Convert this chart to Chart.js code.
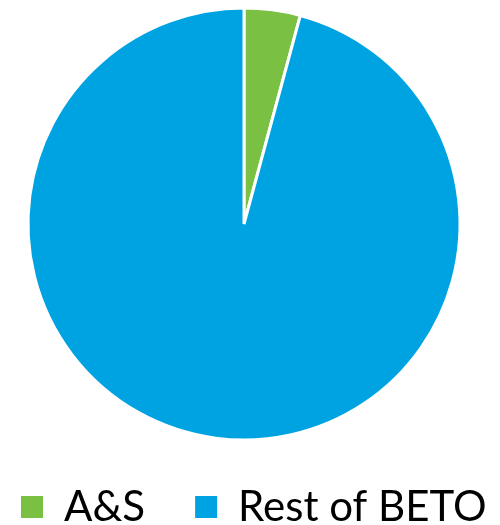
<!DOCTYPE html>
<html>
<head>
<meta charset="utf-8">
<script src="https://cdn.jsdelivr.net/npm/chart.js@4/dist/chart.umd.min.js"></script>
<style>
    html, body { margin: 0; padding: 0; background: #fff; }
    #wrap { width: 500px; height: 525px; }
</style>
</head>
<body>
<div id="wrap"><canvas id="pie-chart"></canvas></div>
<script>
const categories = ['A&S', 'Rest of BETO'];
const shares = [4.2, 95.8];
const sliceColors = ['#7ac143', '#00a3e2'];

// keep both legend items on one row and give the legend a fixed height
const legendFit = {
    id: 'legendFit',
    beforeInit(chart) {
        const fit = chart.legend.fit;
        chart.legend.fit = function () {
            const mw = this.maxWidth;
            this.maxWidth = 1000;
            fit.call(this);
            this.maxWidth = mw;
            this.width = mw;
            this.height = 89;
        };
    },
    afterLayout(chart) {
        // first box starts at x=21 (left + labels.padding), no wrapping
        chart.legend.left = -29;
        chart.legend.right = 1000;
    }
};

const ctx = document.getElementById('pie-chart').getContext('2d');
const defaultLabels = Chart.controllers.pie.overrides.plugins.legend.labels.generateLabels;

new Chart(ctx, {
    type: 'pie',
    data: {
        labels: categories,
        datasets: [{
            data: shares,
            backgroundColor: sliceColors,
            borderColor: '#ffffff',
            borderWidth: 3,
            radius: 216,
        }]
    },
    options: {
        responsive: true,
        maintainAspectRatio: false,
        animation: false,
        layout: {
            padding: { top: 12, left: 0, right: 12, bottom: 0 }
        },
        plugins: {
            tooltip: { enabled: false },
            legend: {
                position: 'bottom',
                align: 'start',
                labels: {
                    boxWidth: 22,
                    boxHeight: 22,
                    padding: 50,
                    color: '#000',
                    font: { family: 'Lato', size: 42 },
                    // no white outline round the legend squares
                    generateLabels: chart => defaultLabels(chart).map(item => ({ ...item, lineWidth: 0 })),
                }
            }
        }
    },
    plugins: [legendFit]
});
</script>
</body>
</html>
